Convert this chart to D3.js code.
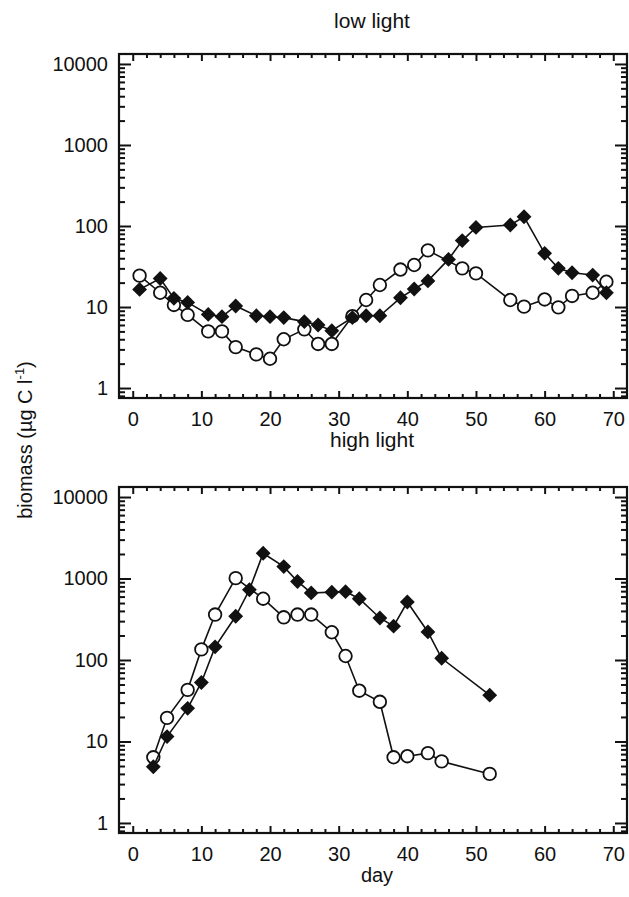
<!DOCTYPE html>
<html>
<head>
<meta charset="utf-8">
<script src="https://cdn.jsdelivr.net/npm/d3@7"></script>
<style>
  body { margin: 0; background: #fff; }
  text { font-family: "Liberation Sans", Arial, sans-serif; fill: #111; }
</style>
</head>
<body>
<div id="chart"></div>
<script>
// low light panel
const lowFilledDays = [1, 4, 6, 8, 11, 13, 15, 18, 20, 22, 25, 27, 29, 32, 34, 36, 39, 41, 43, 46, 48, 50, 55, 57, 60, 62, 64, 67, 69];
const lowFilledVals = [16.5, 22.5, 12.8, 11.4, 8.1, 7.6, 10.3, 7.8, 7.6, 7.4, 6.6, 6.0, 5.1, 7.4, 7.8, 7.8, 13, 16.7, 21, 38.7, 66, 96, 103, 130, 46, 30, 26.5, 24.8, 15];
const lowOpenDays = [1, 4, 6, 8, 11, 13, 15, 18, 20, 22, 25, 27, 29, 32, 34, 36, 39, 41, 43, 48, 50, 55, 57, 60, 62, 64, 67, 69];
const lowOpenVals = [24.4, 15, 10.6, 8.0, 5.0, 5.0, 3.2, 2.6, 2.3, 4.0, 5.3, 3.5, 3.5, 7.7, 12.2, 18.7, 29, 33, 50, 30, 26, 12.2, 10.1, 12.4, 9.9, 13.7, 15, 20.5];

// high light panel
const highFilledDays = [3, 5, 8, 10, 12, 15, 17, 19, 22, 24, 26, 29, 31, 33, 36, 38, 40, 43, 45, 52];
const highFilledVals = [4.9, 11.5, 25.5, 53, 145, 344, 728, 2040, 1400, 920, 665, 680, 690, 565, 328, 260, 515, 221, 105, 37];
const highOpenDays = [3, 5, 8, 10, 12, 15, 19, 22, 24, 26, 29, 31, 33, 36, 38, 40, 43, 45, 52];
const highOpenVals = [6.4, 19.5, 43, 135, 361, 1010, 565, 334, 361, 361, 219, 112, 42, 30.7, 6.4, 6.6, 7.2, 5.7, 4.0];

const xTicks = [0, 10, 20, 30, 40, 50, 60, 70];
const yTicks = [1, 10, 100, 1000, 10000];

const w = 629;
const h = 897;

const svg = d3.select('#chart')
  .append('svg')
  .attr('width', w)
  .attr('height', h);

const xScale = d3.scaleLinear().domain([-2, 72]).range([119, 627]);
const yDomain = [Math.pow(10, -0.123), Math.pow(10, 4.123)];

// minor ticks
const xMinor = d3.range(0, 72, 2).filter(d => d % 10 !== 0);
const yMinor = [];
for (let k = -1; k <= 4; k++) {
  for (let m = 2; m <= 9; m++) {
    const v = m * Math.pow(10, k);
    if (v > yDomain[0] && v < yDomain[1]) yMinor.push(v);
  }
}

const drawPanel = (top, bottom, title, titleY, filledDays, filledVals, openDays, openVals) => {
  const yScale = d3.scaleLog().domain(yDomain).range([bottom, top]);
  const g = svg.append('g');
  const x0 = xScale.range()[0], x1 = xScale.range()[1];

  // x axes (bottom labelled, top mirrored)
  g.append('g')
    .attr('transform', 'translate(0,' + bottom + ')')
    .call(d3.axisBottom(xScale).tickValues(xTicks).tickSize(-7).tickPadding(14).tickFormat(d3.format('d')))
    .call(a => a.select('.domain').remove());
  g.append('g')
    .attr('transform', 'translate(0,' + bottom + ')')
    .call(d3.axisBottom(xScale).tickValues(xMinor).tickSize(-4).tickFormat(''))
    .call(a => a.select('.domain').remove());
  g.append('g')
    .attr('transform', 'translate(0,' + top + ')')
    .call(d3.axisTop(xScale).tickValues(xTicks).tickSize(-7).tickFormat(''))
    .call(a => a.select('.domain').remove());
  g.append('g')
    .attr('transform', 'translate(0,' + top + ')')
    .call(d3.axisTop(xScale).tickValues(xMinor).tickSize(-4).tickFormat(''))
    .call(a => a.select('.domain').remove());

  // y axes
  g.append('g')
    .attr('transform', 'translate(' + x0 + ',0)')
    .call(d3.axisLeft(yScale).tickValues(yTicks).tickSize(-12).tickPadding(11).tickFormat(d3.format('d')))
    .call(a => a.select('.domain').remove());
  g.append('g')
    .attr('transform', 'translate(' + x0 + ',0)')
    .call(d3.axisLeft(yScale).tickValues(yMinor).tickSize(-6).tickFormat(''))
    .call(a => a.select('.domain').remove());
  g.append('g')
    .attr('transform', 'translate(' + x1 + ',0)')
    .call(d3.axisRight(yScale).tickValues(yTicks).tickSize(-12).tickFormat(''))
    .call(a => a.select('.domain').remove());
  g.append('g')
    .attr('transform', 'translate(' + x1 + ',0)')
    .call(d3.axisRight(yScale).tickValues(yMinor).tickSize(-6).tickFormat(''))
    .call(a => a.select('.domain').remove());

  g.selectAll('.tick line').attr('stroke', '#111').attr('stroke-width', 2);
  g.selectAll('.tick text')
    .attr('font-size', 20)
    .attr('fill', '#111')
    .style('font-family', '"Liberation Sans", Arial, sans-serif');

  // frame
  g.append('rect')
    .attr('x', x0)
    .attr('y', top)
    .attr('width', x1 - x0)
    .attr('height', bottom - top)
    .attr('fill', 'none')
    .attr('stroke', '#111')
    .attr('stroke-width', 2.2);

  // title
  svg.append('text')
    .attr('x', 372)
    .attr('y', titleY)
    .attr('text-anchor', 'middle')
    .attr('font-size', 21)
    .text(title);

  const line = d3.line()
    .x(d => xScale(d[0]))
    .y(d => yScale(d[1]));

  const openData = d3.zip(openDays, openVals);
  const filledData = d3.zip(filledDays, filledVals);

  g.append('path')
    .datum(openData)
    .attr('d', line)
    .attr('fill', 'none')
    .attr('stroke', '#111')
    .attr('stroke-width', 1.6);

  g.selectAll('.open')
    .data(openData)
    .enter()
    .append('circle')
    .attr('class', 'open')
    .attr('cx', d => xScale(d[0]))
    .attr('cy', d => yScale(d[1]))
    .attr('r', 6.3)
    .attr('fill', '#fff')
    .attr('stroke', '#111')
    .attr('stroke-width', 1.8);

  g.append('path')
    .datum(filledData)
    .attr('d', line)
    .attr('fill', 'none')
    .attr('stroke', '#111')
    .attr('stroke-width', 1.6);

  const diamond = d3.symbol().type(d3.symbolSquare).size(110);
  g.selectAll('.filled')
    .data(filledData)
    .enter()
    .append('path')
    .attr('class', 'filled')
    .attr('d', diamond)
    .attr('transform', d => 'translate(' + xScale(d[0]) + ',' + yScale(d[1]) + ') rotate(45)')
    .attr('fill', '#111');
};

drawPanel(54, 398, 'low light', 28, lowFilledDays, lowFilledVals, lowOpenDays, lowOpenVals);
drawPanel(487, 833, 'high light', 447, highFilledDays, highFilledVals, highOpenDays, highOpenVals);

// shared labels
svg.append('text')
  .attr('x', 377)
  .attr('y', 882)
  .attr('text-anchor', 'middle')
  .attr('font-size', 20)
  .text('day');

const yLabel = svg.append('text')
  .attr('transform', 'translate(32,440) rotate(-90)')
  .attr('text-anchor', 'middle')
  .attr('font-size', 20);
yLabel.append('tspan').text('biomass (µg C l');
yLabel.append('tspan').attr('dy', -8).attr('font-size', 13).text('-1');
yLabel.append('tspan').attr('dy', 8).text(')');
</script>
</body>
</html>
